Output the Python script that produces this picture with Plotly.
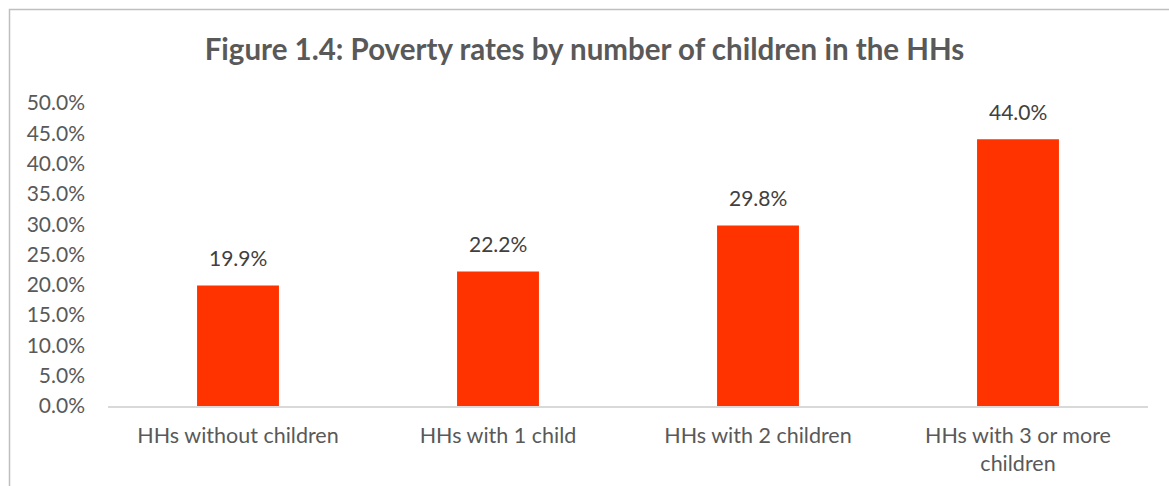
import plotly.graph_objects as go

categories = ["HHs without children", "HHs with 1 child", "HHs with 2 children", "HHs with 3 or more<br>children"]
values = [0.199, 0.222, 0.298, 0.440]
title_text = "Figure 1.4: Poverty rates by number of children in the HHs"

W, H = 1169, 486
ml, mr, mt, mb = 108, 21, 103, 80
pw = W - ml - mr
ph = H - mt - mb
FONT = "Lato"

fig = go.Figure(go.Bar(
    x=categories, y=values,
    marker=dict(color="#FF3300", line=dict(width=0)),
    width=0.315,
    cliponaxis=False,
))

for c, v in zip(categories, values):
    fig.add_annotation(x=c, y=v, text=f"{v*100:.1f}%", showarrow=False,
                       yanchor="bottom", yshift=13,
                       font=dict(size=21, color="#404040", family=FONT))

fig.update_layout(
    width=W, height=H,
    margin=dict(l=ml, r=mr, t=mt, b=mb, autoexpand=False),
    paper_bgcolor="white", plot_bgcolor="white",
    font=dict(family=FONT, size=21, color="#595959"),
    title=dict(text="<b>" + title_text + "</b>", x=0.5, xanchor="center",
               y=1 - 50 / H, yanchor="middle",
               font=dict(size=29.5, color="#595959", family=FONT)),
    xaxis=dict(showline=True, linecolor="#D9D9D9", linewidth=2, ticks="",
               showgrid=False, ticklabelstandoff=9, automargin=False,
               tickfont=dict(size=21.5, color="#595959")),
    yaxis=dict(range=[0, 0.5], dtick=0.05, tickformat=".1%", showgrid=False,
               zeroline=False, showline=False, ticks="", ticklabelstandoff=22,
               automargin=False, tickfont=dict(size=21, color="#595959")),
    bargap=0.685,
    showlegend=False,
    shapes=[dict(type="rect", xref="paper", yref="paper",
                 x0=(9.5 - ml) / pw, x1=(W + 20 - ml) / pw,
                 y0=-(mb + 20) / ph, y1=1 + (mt - 9.5) / ph,
                 line=dict(color="#BFBFBF", width=1.5), layer="above")],
)

fig.write_html("out.html")
